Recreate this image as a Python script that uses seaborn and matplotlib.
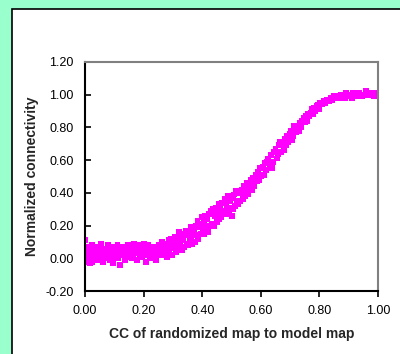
import numpy as np
import pandas as pd
import seaborn as sns
import matplotlib.pyplot as plt
from matplotlib.patches import Rectangle

# values
cc_x = [
    0.000, 0.002, 0.004, 0.005, 0.007, 0.009, 0.010, 0.012, 0.014, 0.016,
    0.018, 0.020, 0.023, 0.025, 0.028, 0.030, 0.033, 0.035, 0.038, 0.040,
    0.043, 0.046, 0.048, 0.051, 0.054, 0.057, 0.060, 0.063, 0.066, 0.069,
    0.072, 0.075, 0.078, 0.081, 0.084, 0.087, 0.090, 0.093, 0.096, 0.099,
    0.102, 0.105, 0.108, 0.111, 0.114, 0.117, 0.120, 0.123, 0.126, 0.129,
    0.132, 0.135, 0.138, 0.141, 0.144, 0.147, 0.150, 0.153, 0.156, 0.159,
    0.162, 0.165, 0.168, 0.171, 0.174, 0.177, 0.180, 0.183, 0.186, 0.189,
    0.192, 0.195, 0.198, 0.201, 0.204, 0.207, 0.210, 0.213, 0.216, 0.219,
    0.222, 0.225, 0.228, 0.231, 0.234, 0.237, 0.240, 0.243, 0.246, 0.249,
    0.252, 0.255, 0.258, 0.261, 0.264, 0.267, 0.270, 0.273, 0.276, 0.279,
    0.282, 0.285, 0.288, 0.291, 0.294, 0.297, 0.300, 0.303, 0.306, 0.309,
    0.312, 0.315, 0.318, 0.321, 0.324, 0.327, 0.330, 0.333, 0.336, 0.339,
    0.342, 0.345, 0.348, 0.351, 0.354, 0.357, 0.360, 0.363, 0.366, 0.369,
    0.372, 0.375, 0.378, 0.381, 0.384, 0.387, 0.390, 0.393, 0.396, 0.399,
    0.402, 0.405, 0.408, 0.411, 0.414, 0.417, 0.420, 0.423, 0.426, 0.429,
    0.432, 0.435, 0.438, 0.441, 0.444, 0.447, 0.450, 0.453, 0.456, 0.459,
    0.462, 0.465, 0.468, 0.471, 0.474, 0.477, 0.480, 0.483, 0.486, 0.489,
    0.492, 0.495, 0.498, 0.501, 0.504, 0.507, 0.510, 0.513, 0.516, 0.519,
    0.522, 0.526, 0.530, 0.534, 0.538, 0.542, 0.546, 0.550, 0.554, 0.558,
    0.562, 0.566, 0.570, 0.574, 0.578, 0.582, 0.586, 0.590, 0.594, 0.598,
    0.602, 0.606, 0.610, 0.614, 0.618, 0.622, 0.626, 0.630, 0.634, 0.638,
    0.642, 0.646, 0.650, 0.654, 0.658, 0.662, 0.666, 0.670, 0.674, 0.678,
    0.682, 0.686, 0.690, 0.694, 0.698, 0.702, 0.706, 0.710, 0.714, 0.718,
    0.722, 0.726, 0.730, 0.734, 0.738, 0.742, 0.746, 0.750, 0.754, 0.758,
    0.762, 0.766, 0.770, 0.774, 0.778, 0.782, 0.786, 0.790, 0.794, 0.798,
    0.802, 0.808, 0.814, 0.820, 0.826, 0.832, 0.838, 0.844, 0.850, 0.856,
    0.862, 0.868, 0.874, 0.880, 0.886, 0.892, 0.898, 0.904, 0.910, 0.916,
    0.922, 0.928, 0.934, 0.940, 0.946, 0.952, 0.958, 0.964, 0.970, 0.976,
    0.982, 0.986, 0.990, 0.994, 0.998, 1.000,
]
connectivity = [
    0.11, 0.02, -0.02, 0.05, 0.00, 0.07, -0.01, 0.03, 0.06, -0.03,
    0.01, 0.04, 0.08, -0.02, 0.03, 0.06, 0.00, 0.05, 0.02, -0.01,
    0.07, 0.03, 0.05, 0.01, 0.09, 0.04, -0.02, 0.06, 0.02, 0.04,
    0.00, 0.05, 0.08, 0.03, -0.01, 0.06, 0.02, 0.07, -0.03, 0.04,
    0.01, 0.06, 0.03, 0.08, 0.00, 0.04, -0.04, 0.05, 0.02, 0.07,
    0.03, -0.01, 0.06, 0.02, 0.05, 0.08, 0.01, 0.04, 0.07, 0.00,
    0.05, 0.02, 0.09, 0.03, 0.06, -0.01, 0.04, 0.08, 0.02, 0.05,
    0.07, 0.01, 0.04, 0.09, 0.03, -0.02, 0.06, 0.02, 0.08, 0.04,
    0.00, 0.05, 0.03, 0.07, 0.01, 0.04, 0.02, -0.01, 0.06, 0.03,
    0.08, 0.04, 0.02, 0.06, 0.10, 0.03, 0.07, 0.05, 0.09, 0.01,
    0.06, 0.11, 0.04, 0.08, 0.12, 0.02, 0.09, 0.06, 0.13, 0.10,
    0.04, 0.13, 0.07, 0.16, 0.08, 0.12, 0.05, 0.15, 0.11, 0.07,
    0.14, 0.17, 0.09, 0.08, 0.16, 0.11, 0.19, 0.13, 0.09, 0.18,
    0.16, 0.10, 0.20, 0.14, 0.23, 0.12, 0.19, 0.21, 0.15, 0.25,
    0.18, 0.23, 0.15, 0.26, 0.19, 0.24, 0.16, 0.27, 0.20, 0.29,
    0.21, 0.27, 0.30, 0.20, 0.26, 0.31, 0.22, 0.28, 0.33, 0.24,
    0.31, 0.25, 0.34, 0.27, 0.29, 0.36, 0.27, 0.34, 0.30, 0.38,
    0.28, 0.35, 0.31, 0.26, 0.37, 0.30, 0.39, 0.32, 0.41, 0.35,
    0.33, 0.40, 0.35, 0.42, 0.36, 0.44, 0.38, 0.42, 0.46, 0.39,
    0.45, 0.48, 0.42, 0.49, 0.44, 0.51, 0.47, 0.53, 0.48, 0.55,
    0.50, 0.56, 0.51, 0.58, 0.54, 0.59, 0.61, 0.57, 0.63, 0.55,
    0.59, 0.65, 0.67, 0.61, 0.64, 0.69, 0.71, 0.65, 0.70, 0.66,
    0.73, 0.69, 0.75, 0.71, 0.76, 0.78, 0.72, 0.75, 0.81, 0.77,
    0.77, 0.81, 0.78, 0.83, 0.80, 0.84, 0.86, 0.83, 0.87, 0.84,
    0.88, 0.87, 0.89, 0.91, 0.88, 0.92, 0.90, 0.93, 0.94, 0.91,
    0.95, 0.94, 0.96, 0.95, 0.97, 0.96, 0.98, 0.97, 0.99, 0.98,
    0.99, 0.98, 1.00, 0.99, 0.98, 1.01, 0.99, 1.00, 0.98, 1.01,
    1.00, 0.99, 1.01, 1.00, 0.99, 1.00, 1.02, 1.00, 1.01, 1.00,
    1.01, 0.99, 1.00, 1.01, 1.00, 0.99,
]
x_ticks = [0.0, 0.2, 0.4, 0.6, 0.8, 1.0]
y_ticks = [-0.2, 0.0, 0.2, 0.4, 0.6, 0.8, 1.0, 1.2]

df = pd.DataFrame({"cc": cc_x, "conn": connectivity})

sns.set_style("white")
plt.rcParams['font.family'] = ['Liberation Sans', 'DejaVu Sans']

fig = plt.figure(figsize=(4.0, 3.54), dpi=100)
fig.patch.set_facecolor("#99ffcc")
# white chart panel with black border (left/top visible)
fig.add_artist(Rectangle((12 / 400, -0.2), 1.2, 0.2 + 1 - 9 / 354,
                         transform=fig.transFigure, facecolor="white",
                         edgecolor="black", linewidth=1.2, zorder=0))

ax = fig.add_axes([85 / 400, 1 - 291 / 354, 293 / 400, 229 / 354])
ax.set_facecolor("white")
sns.scatterplot(data=df, x="cc", y="conn", ax=ax, marker="s", s=18,
                color="#ff00ff", edgecolor="none", linewidth=0)

ax.set_xlim(0, 1)
ax.set_ylim(-0.2, 1.2)
ax.set_xticks(x_ticks)
ax.set_yticks(y_ticks)
ax.set_xticklabels([f"{v:.2f}" for v in x_ticks])
ax.set_yticklabels([f"{v:.2f}" for v in y_ticks])
ax.tick_params(axis="x", direction="out", length=4, width=1.2, pad=6,
               labelsize=9, colors="black", bottom=True)
ax.tick_params(axis="y", direction="in", length=4, width=1.2, pad=8,
               labelsize=9, colors="black", left=True)

for side in ["left", "bottom"]:
    ax.spines[side].set_color("black")
    ax.spines[side].set_linewidth(1.5)
for side in ["top", "right"]:
    ax.spines[side].set_color("#808080")
    ax.spines[side].set_linewidth(1.5)

ax.set_xlabel("CC of randomized map to model map", fontsize=10,
              fontweight="bold", labelpad=7)
ax.set_ylabel("Normalized connectivity", fontsize=10,
              fontweight="bold", labelpad=5)

plt.savefig("out.png", dpi=100, facecolor=fig.get_facecolor())
